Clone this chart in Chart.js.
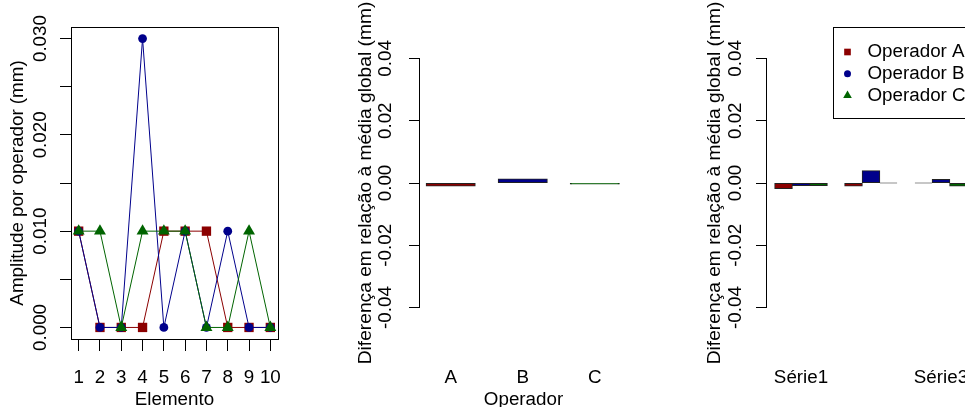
<!DOCTYPE html>
<html>
<head>
<meta charset="utf-8">
<script src="https://cdn.jsdelivr.net/npm/chart.js@4/dist/chart.umd.min.js"></script>
<style>
  html, body { margin: 0; padding: 0; background: #fff; overflow: hidden; width: 965px; height: 407px; }
  #wrap { position: relative; width: 965px; height: 407px; overflow: hidden; background: #fff; }
  canvas { position: absolute; top: 0; }
</style>
</head>
<body>
<div id="wrap">
  <canvas id="c1" width="348" height="407" style="left:0px"></canvas>
  <canvas id="c2" width="348" height="407" style="left:348px"></canvas>
  <canvas id="c3" width="348" height="407" style="left:696px"></canvas>
</div>
<script>
// ---------- data ----------
const elementos = [1, 2, 3, 4, 5, 6, 7, 8, 9, 10];
const amplitudeA = [0.010, 0.000, 0.000, 0.000, 0.010, 0.010, 0.010, 0.000, 0.000, 0.000];
const amplitudeB = [0.010, 0.000, 0.000, 0.030, 0.000, 0.010, 0.000, 0.010, 0.000, 0.000];
const amplitudeC = [0.010, 0.010, 0.000, 0.010, 0.010, 0.010, 0.000, 0.000, 0.010, 0.000];
const amplitudeTicks = [0, 0.005, 0.010, 0.015, 0.020, 0.025, 0.030];

const operadores = ['A', 'B', 'C'];
const difOperador = [-0.0010, 0.0013, -0.0003];

const series = ['Série1', 'Série2', 'Série3'];
const difSerieA = [-0.0018, -0.0010, 0.0000];
const difSerieB = [-0.0008, 0.0039, 0.0011];
const difSerieC = [-0.0008, 0.0000, -0.0010];
const difTicks = [-0.04, -0.02, 0, 0.02, 0.04];

const legendLabels = ['Operador A', 'Operador B', 'Operador C'];

// ---------- style ----------
const RED = '#8B0000', BLUE = '#00008B', GREEN = '#006400';
const FONT = "'Liberation Sans', Arial, Helvetica, sans-serif";
const FS = 18.8;
Chart.defaults.font.family = FONT;
Chart.defaults.font.size = FS;
Chart.defaults.color = '#000';

// frame / axis-line / legend plugin
const framePlugin = {
  id: 'frame',
  afterDraw(chart, args, opts) {
    const { ctx, chartArea: a } = chart;
    ctx.save();
    ctx.strokeStyle = '#000';
    ctx.lineWidth = 1;
    if (opts.box) {
      const x0 = Math.round(a.left) + 0.5, x1 = Math.round(a.right) + 0.5;
      const y0 = Math.round(a.top) + 0.5, y1 = Math.round(a.bottom) + 0.5;
      ctx.strokeRect(x0, y0, x1 - x0, y1 - y0);
    }
    if (opts.yLine) {
      const ys = chart.scales.y;
      const t = ys.ticks;
      const x = Math.round(a.left) - 0.5;
      ctx.beginPath();
      ctx.moveTo(x, ys.getPixelForValue(t[0].value));
      ctx.lineTo(x, ys.getPixelForValue(t[t.length - 1].value));
      ctx.stroke();
    }
    if (opts.legend) {
      const L = opts.legend;
      const right = a.right, top = Math.round(a.top) + 0.5;
      const left = Math.round(right - L.width) + 0.5;
      ctx.strokeRect(left, top, right + 2 - left, L.height);
      chart.data.datasets.forEach((ds, i) => {
        const y = top + L.firstY + i * L.step;
        const x = left + L.symX;
        ctx.fillStyle = ds.backgroundColor;
        ctx.beginPath();
        const st = ds.legendStyle;
        const r = ds.legendRadius;
        if (st === 'rect') {
          const s = r * Math.SQRT1_2;
          ctx.rect(x - s, y - s, 2 * s, 2 * s);
        } else if (st === 'circle') {
          ctx.arc(x, y, r, 0, Math.PI * 2);
        } else {
          ctx.moveTo(x, y - r);
          ctx.lineTo(x + r * Math.sin(2 * Math.PI / 3), y + r / 2);
          ctx.lineTo(x - r * Math.sin(2 * Math.PI / 3), y + r / 2);
          ctx.closePath();
        }
        ctx.fill();
        ctx.fillStyle = '#000';
        ctx.font = FS + 'px ' + FONT;
        ctx.textBaseline = 'middle';
        ctx.textAlign = 'left';
        ctx.fillText(ds.label, left + L.textX, y);
      });
    }
    ctx.restore();
  }
};

const common = {
  responsive: false,
  animation: false,
  events: [],
  devicePixelRatio: 1,
};

// R-like bar borders: centred on the bar edge; zero bars drawn as a thin border line
const inflate = c => (c.raw && c.raw.y === 0 ? 0 : 0.5);

function yScale(opts) {
  return {
    type: 'linear',
    min: opts.min, max: opts.max,
    afterBuildTicks: s => { s.ticks = opts.ticks.map(v => ({ value: v })); },
    afterFit: s => { s.width = opts.width; },
    grid: { display: true, drawOnChartArea: false, drawTicks: true, tickLength: 11, color: '#000', lineWidth: 1 },
    border: { display: false },
    ticks: {
      autoSkip: false, minRotation: 90, maxRotation: 90, crossAlign: 'center',
      padding: opts.tickPad, color: '#000', callback: opts.fmt
    },
    title: { display: true, text: opts.title, color: '#000', font: { size: opts.titleSize || FS, lineHeight: 1 }, padding: { top: opts.titlePad, bottom: 0 } }
  };
}

// ---------- panel 1 : line chart ----------
new Chart(document.getElementById('c1'), {
  type: 'line',
  data: {
    datasets: [
      { label: legendLabels[0], data: elementos.map((e, i) => ({ x: e, y: amplitudeA[i] })),
        borderColor: RED, backgroundColor: RED, pointBackgroundColor: RED, pointStyle: 'rect', pointRadius: 6.6, order: 3 },
      { label: legendLabels[1], data: elementos.map((e, i) => ({ x: e, y: amplitudeB[i] })),
        borderColor: BLUE, backgroundColor: BLUE, pointBackgroundColor: BLUE, pointStyle: 'circle', pointRadius: 4.4, order: 2 },
      { label: legendLabels[2], data: elementos.map((e, i) => ({ x: e, y: amplitudeC[i] })),
        borderColor: GREEN, backgroundColor: GREEN, pointBackgroundColor: GREEN, pointStyle: 'triangle', pointRadius: 6.9, order: 1 }
    ]
  },
  options: Object.assign({}, common, {
    layout: { padding: { top: 27, right: 70, bottom: 0, left: 0 } },
    elements: { line: { borderWidth: 1, tension: 0 }, point: { borderWidth: 0, hoverRadius: 6 } },
    plugins: { legend: { display: false }, tooltip: { enabled: false }, frame: { box: true } },
    scales: {
      x: {
        type: 'linear', min: 0.64, max: 10.36,
        afterBuildTicks: s => { s.ticks = elementos.map(v => ({ value: v })); },
        afterFit: s => { s.height = 68; },
        grid: { display: true, drawOnChartArea: false, drawTicks: true, tickLength: 12, color: '#000' },
        border: { display: false },
        ticks: { autoSkip: false, maxRotation: 0, minRotation: 0, padding: 15.2, color: '#000', callback: v => String(v) },
        title: { display: true, text: 'Elemento', color: '#000', font: { size: FS, lineHeight: 0.8 }, padding: 0 }
      },
      y: yScale({ min: -0.0012, max: 0.0312, ticks: amplitudeTicks, width: 71, tickPad: -4,
        fmt: v => (Math.round(v * 1000) % 10 === 0 ? v.toFixed(3) : ''),
        title: 'Amplitude por operador (mm)', titlePad: 8.6 })
    }
  }),
  plugins: [framePlugin]
});

// ---------- panel 2 : bars per operator ----------
new Chart(document.getElementById('c2'), {
  type: 'bar',
  data: {
    datasets: [{
      label: 'Diferença',
      data: operadores.map((o, i) => ({ x: i + 1, y: difOperador[i] })),
      backgroundColor: [RED, BLUE, GREEN],
      borderColor: '#222', borderWidth: 1, borderSkipped: false, minBarLength: 1, inflateAmount: inflate,
      barPercentage: 0.68, categoryPercentage: 1
    }]
  },
  options: Object.assign({}, common, {
    layout: { padding: { top: 27, right: 69, bottom: 0, left: 0 } },
    plugins: { legend: { display: false }, tooltip: { enabled: false }, frame: { yLine: true } },
    scales: {
      x: {
        type: 'linear', offset: false, min: 0.574, max: 3.447,
        afterBuildTicks: s => { s.ticks = operadores.map((o, i) => ({ value: i + 1 })); },
        afterFit: s => { s.height = 68; },
        grid: { display: false, drawTicks: false, offset: false },
        border: { display: false },
        ticks: { autoSkip: false, maxRotation: 0, minRotation: 0, padding: 27.2, color: '#000',
          callback: v => operadores[Math.round(v) - 1] },
        title: { display: true, text: 'Operador', color: '#000', font: { size: FS, lineHeight: 0.8 }, padding: 0 }
      },
      y: yScale({ min: -0.0501, max: 0.0501, ticks: difTicks, width: 72, tickPad: 1.3,
        fmt: v => v.toFixed(2), titleSize: 19.2,
        title: 'Diferença em relação à média global (mm)', titlePad: 8.2 })
    }
  }),
  plugins: [framePlugin]
});

// ---------- panel 3 : grouped bars per series ----------
new Chart(document.getElementById('c3'), {
  type: 'bar',
  data: {
    datasets: [
      { label: legendLabels[0], data: series.map((s, i) => ({ x: i + 1, y: difSerieA[i] })), backgroundColor: RED,
        legendStyle: 'rect', legendRadius: 4.7 },
      { label: legendLabels[1], data: series.map((s, i) => ({ x: i + 1, y: difSerieB[i] })), backgroundColor: BLUE,
        legendStyle: 'circle', legendRadius: 3.5 },
      { label: legendLabels[2], data: series.map((s, i) => ({ x: i + 1, y: difSerieC[i] })), backgroundColor: GREEN,
        legendStyle: 'triangle', legendRadius: 5 }
    ]
  },
  options: Object.assign({}, common, {
    layout: { padding: { top: 27, right: 69, bottom: 0, left: 0 } },
    datasets: { bar: { borderColor: '#222', borderWidth: 1, borderSkipped: false, minBarLength: 1,
      inflateAmount: inflate, barPercentage: 1, categoryPercentage: 0.75 } },
    plugins: { legend: { display: false }, tooltip: { enabled: false },
      frame: { yLine: true, legend: { width: 142.3, height: 91, firstY: 24.5, step: 21.7, symX: 14, textX: 34 } } },
    scales: {
      x: {
        type: 'linear', offset: false, min: 0.514, max: 3.486,
        afterBuildTicks: s => { s.ticks = series.map((o, i) => ({ value: i + 1 })); },
        afterFit: s => { s.height = 68; },
        grid: { display: false, drawTicks: false, offset: false },
        border: { display: false },
        ticks: { autoSkip: true, autoSkipPadding: 60, maxRotation: 0, minRotation: 0, padding: 27.2, color: '#000',
          callback: v => series[Math.round(v) - 1] },
        title: { display: false }
      },
      y: yScale({ min: -0.0501, max: 0.0501, ticks: difTicks, width: 71, tickPad: -0.9,
        fmt: v => v.toFixed(2), titleSize: 19.2,
        title: 'Diferença em relação à média global (mm)', titlePad: 9.1 })
    }
  }),
  plugins: [framePlugin]
});
</script>
</body>
</html>
